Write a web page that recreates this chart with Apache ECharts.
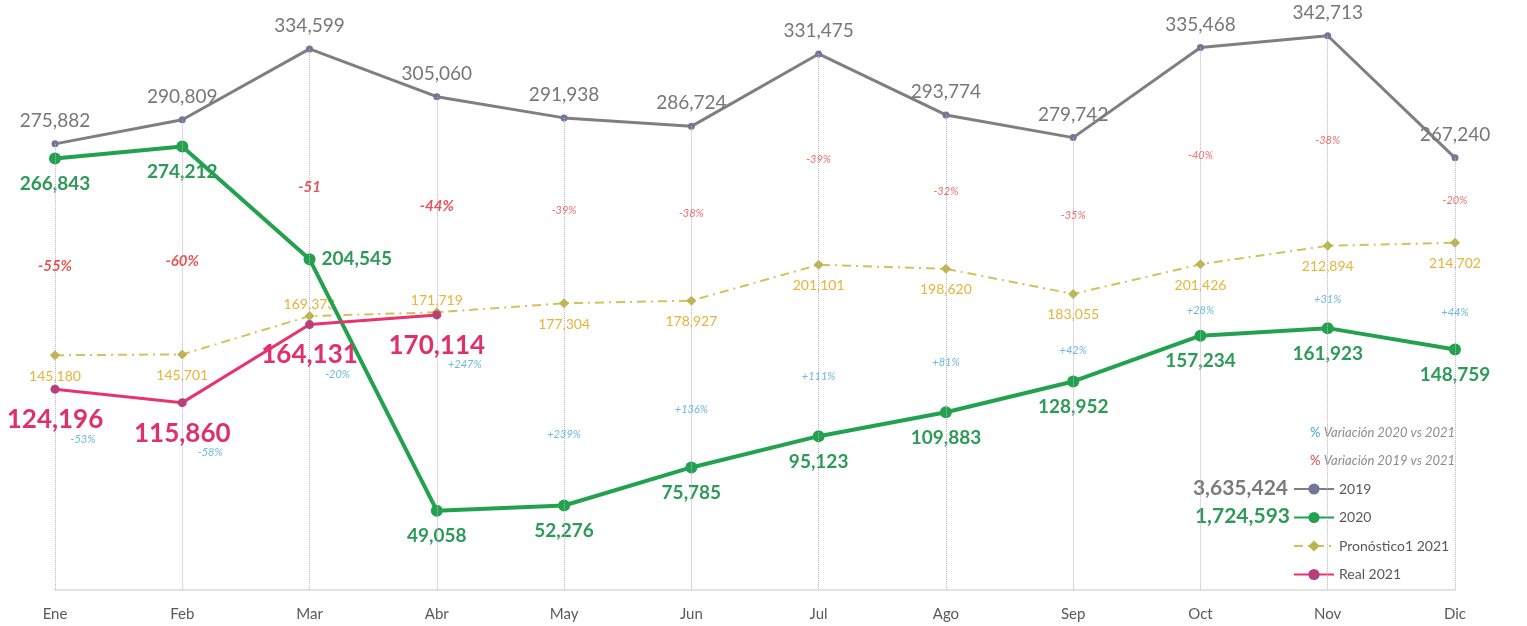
<!DOCTYPE html>
<html>
<head>
<meta charset="utf-8">
<title>Ventas 2019 - 2021</title>
<script src="https://cdn.jsdelivr.net/npm/echarts@6/dist/echarts.min.js"></script>
<style>
    html, body { margin: 0; padding: 0; background: #fff; }
    #grafica { width: 1527px; height: 626px; }
</style>
</head>
<body>
<div id="grafica"></div>
<script>
// datos
var meses = ['Ene', 'Feb', 'Mar', 'Abr', 'May', 'Jun', 'Jul', 'Ago', 'Sep', 'Oct', 'Nov', 'Dic'];
var ventas2019 = [275882, 290809, 334599, 305060, 291938, 286724, 331475, 293774, 279742, 335468, 342713, 267240];
var ventas2020 = [266843, 274212, 204545, 49058, 52276, 75785, 95123, 109883, 128952, 157234, 161923, 148759];
var pronostico2021 = [145180, 145701, 169373, 171719, 177304, 178927, 201101, 198620, 183055, 201426, 212894, 214702];
var real2021 = [124196, 115860, 164131, 170114, null, null, null, null, null, null, null, null];
// % variación 2019 vs 2021 (rojo) y 2020 vs 2021 (azul)
var var2019 = ['-55%', '-60%', '-51', '-44%', '-39%', '-38%', '-39%', '-32%', '-35%', '-40%', '-38%', '-20%'];
var var2020 = ['-53%', '-58%', '-20%', '+247%', '+239%', '+136%', '+111%', '+81%', '+42%', '+28%', '+31%', '+44%'];

var fuente = 'Lato, "Open Sans", sans-serif';
var fmt = echarts.format.addCommas;

function suma(arr) {
    var s = 0;
    arr.forEach(function (v) { s += v; });
    return s;
}
// valor 2021: real si existe, si no el pronóstico
function valor2021(i) {
    return real2021[i] != null ? real2021[i] : pronostico2021[i];
}

// puntos de apoyo para las etiquetas de variación
var rojoData = meses.map(function (m, i) {
    var fuerte = real2021[i] != null;
    return {
        value: (ventas2019[i] + valor2021(i)) / 2,
        label: {
            fontSize: fuerte ? 15 : 11,
            fontWeight: fuerte ? 'bold' : 'normal',
            color: fuerte ? '#e02b2b' : '#ec4b4b'
        }
    };
});
var azulData = meses.map(function (m, i) {
    if (real2021[i] != null) {
        return { value: real2021[i], label: { offset: [28, 50] } };
    }
    return { value: ventas2020[i] + 0.35 * (pronostico2021[i] - ventas2020[i]) };
});

var pronosticoData = pronostico2021.map(function (v, i) {
    // Mar y Abr llevan la etiqueta arriba
    if (i === 2 || i === 3) {
        return { value: v, label: { position: 'top', distance: 0 } };
    }
    return v;
});
var ventas2020Data = ventas2020.map(function (v, i) {
    if (i === 2) {
        return { value: v, label: { position: 'right', distance: 6 } };
    }
    return v;
});

// líneas punteadas verticales desde 2019 hasta el eje
var lineasGuia = meses.map(function (m, i) {
    return [{ coord: [i, ventas2019[i]] }, { coord: [i, 0] }];
});

var chart = echarts.init(document.getElementById('grafica'));
var option = {
    animation: false,
    textStyle: { fontFamily: fuente },
    grid: { left: 55, right: 72, top: 24, bottom: 36 },
    xAxis: {
        type: 'category',
        data: meses,
        boundaryGap: false,
        axisLine: { lineStyle: { color: '#e3e3e3', width: 2 } },
        axisTick: { show: false },
        axisLabel: { color: '#595959', fontSize: 15, margin: 17, fontFamily: fuente }
    },
    yAxis: {
        type: 'value',
        min: 0,
        max: 350000,
        show: false,
        splitLine: { show: false }
    },
    legend: {
        orient: 'vertical',
        left: 1288,
        top: 477,
        itemWidth: 40,
        itemHeight: 14,
        itemGap: 14.5,
        data: ['2019', '2020', 'Pronóstico1 2021', 'Real 2021'],
        textStyle: { color: '#595959', fontSize: 14, fontFamily: fuente }
    },
    graphic: [
        {
            type: 'text',
            style: {
                text: '{p|%} {t|Variación 2020 vs 2021}',
                x: 1310, y: 433, textVerticalAlign: 'middle',
                rich: {
                    p: { fill: '#4aa8d8', fontSize: 13, fontFamily: fuente },
                    t: { fill: '#8c8c8c', fontSize: 13, fontStyle: 'italic', fontFamily: fuente }
                }
            }
        },
        {
            type: 'text',
            style: {
                text: '{p|%} {t|Variación 2019 vs 2021}',
                x: 1310, y: 461, textVerticalAlign: 'middle',
                rich: {
                    p: { fill: '#e04050', fontSize: 13, fontFamily: fuente },
                    t: { fill: '#8c8c8c', fontSize: 13, fontStyle: 'italic', fontFamily: fuente }
                }
            }
        },
        {
            type: 'text',
            style: {
                text: fmt(suma(ventas2019)),
                x: 1288, y: 488, textAlign: 'right', textVerticalAlign: 'middle',
                fill: '#7a7a7a', font: 'bold 21px ' + fuente
            }
        },
        {
            type: 'text',
            style: {
                text: fmt(suma(ventas2020)),
                x: 1290, y: 516, textAlign: 'right', textVerticalAlign: 'middle',
                fill: '#2e9a58', font: 'bold 21px ' + fuente
            }
        }
    ],
    series: [
        {
            name: '2019',
            type: 'line',
            data: ventas2019,
            symbol: 'circle',
            symbolSize: 7,
            z: 3,
            lineStyle: { color: '#7f7f7f', width: 3 },
            itemStyle: { color: '#6f7896' },
            label: {
                show: true, position: 'top', distance: 10,
                color: '#777777', fontSize: 19, fontFamily: fuente,
                formatter: function (p) { return fmt(p.value); }
            },
            markLine: {
                silent: true,
                symbol: 'none',
                label: { show: false },
                lineStyle: { color: '#bcb0c8', type: 'dotted', width: 1 },
                data: lineasGuia
            }
        },
        {
            name: '2020',
            type: 'line',
            data: ventas2020Data,
            symbol: 'circle',
            symbolSize: 12,
            z: 4,
            lineStyle: { color: '#22a24f', width: 4 },
            itemStyle: { color: '#22a24f' },
            label: {
                show: true, position: 'bottom', distance: 10,
                color: '#2e9a58', fontSize: 19, fontWeight: 'bold', fontFamily: fuente,
                formatter: function (p) { return fmt(p.value); }
            }
        },
        {
            name: 'Pronóstico1 2021',
            type: 'line',
            data: pronosticoData,
            symbol: 'diamond',
            symbolSize: 10,
            z: 2,
            lineStyle: { color: '#d2c25a', width: 2, type: [9, 5, 2, 5] },
            itemStyle: { color: '#bdb44c' },
            label: {
                show: true, position: 'bottom', distance: 9,
                color: '#e5b43a', fontSize: 14, fontFamily: fuente,
                formatter: function (p) { return fmt(p.value); }
            }
        },
        {
            name: 'Real 2021',
            type: 'line',
            data: real2021,
            symbol: 'circle',
            symbolSize: 9,
            z: 5,
            lineStyle: { color: '#e8336f', width: 3 },
            itemStyle: { color: '#b8407a' },
            label: {
                show: true, position: 'bottom', distance: 13,
                color: '#e0306a', fontSize: 26, fontWeight: 'bold', fontFamily: fuente,
                formatter: function (p) { return fmt(p.value); }
            }
        },
        {
            name: 'Variación 2019 vs 2021',
            type: 'scatter',
            data: rojoData,
            symbolSize: 0,
            silent: true,
            z: 6,
            label: {
                show: true, position: 'inside', fontStyle: 'italic', fontFamily: fuente,
                formatter: function (p) { return var2019[p.dataIndex]; }
            }
        },
        {
            name: 'Variación 2020 vs 2021',
            type: 'scatter',
            data: azulData,
            symbolSize: 0,
            silent: true,
            z: 6,
            label: {
                show: true, position: 'inside', fontStyle: 'italic', fontFamily: fuente,
                color: '#4aa8d8', fontSize: 11,
                formatter: function (p) { return var2020[p.dataIndex]; }
            }
        }
    ]
};
chart.setOption(option);
</script>
</body>
</html>
